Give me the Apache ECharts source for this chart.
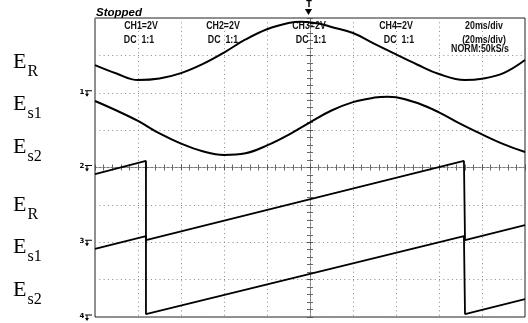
<!DOCTYPE html>
<html>
<head>
<meta charset="utf-8">
<script src="https://cdn.jsdelivr.net/npm/echarts@6/dist/echarts.min.js"></script>
<style>
html,body{margin:0;padding:0;background:#fff;}
#c{width:528px;height:323px;}
</style>
</head>
<body>
<div id="c"></div>
<script>
// time relative to trigger (ms), 20 ms/div ; volts on screen, 2 V/div, centre = 0
var tEr   = [-100,-90,-80,-70,-60,-50,-40,-30,-20,-10,-4,5,10,20,30,40,50,60,72,80,90,100];
var erSine = [5.48,5.03,4.68,4.76,5.05,5.53,6.15,6.85,7.40,7.73,7.80,7.68,7.52,7.20,6.62,6.05,5.50,5.00,4.68,4.75,5.05,5.75];
var tEs1  = [-100,-90,-80,-70,-60,-50,-40,-30,-20,-10,0,10,20,30,36,40,50,60,70,80,90,100];
var es1Sine = [3.56,3.05,2.49,1.82,1.28,0.87,0.67,0.76,1.18,1.75,2.42,3.05,3.50,3.74,3.79,3.76,3.45,2.95,2.33,1.77,1.25,0.83];
// sawtooth traces (break points)
var tSaw   = [-100,-76.3,-76.3,71.6,72.1,100];
var erSaw  = [-0.35,0.35,-3.88,0.35,-3.88,-3.08];
var es1Saw = [-4.36,-3.67,-7.84,-3.67,-7.84,-7.04];
// channel ground levels (V)
var grounds = [4,0,-4,-8];
var groundNames = ['1','2','3','4'];
var labelMain = ['E','E','E','E','E','E'];
var labelSub = ['R','s1','s2','R','s1','s2'];
var headerTop = ['CH1=2V','CH2=2V','CH3=2V','CH4=2V','20ms/div'];
var headerMid = ['DC  1:1','DC  1:1','DC  1:1','DC  1:1','(20ms/div)'];
var headerBot = ['','','','','NORM:50kS/s'];

function zip(a,b){return a.map(function(v,i){return [v,b[i]];});}

var chart = echarts.init(document.getElementById('c'), null, {renderer:'canvas'});
var gridLine = {show:true, lineStyle:{color:'#8a8a8a', width:1, type:[1,3.3]}};
var centerLine = {show:true, onZero:true, onZeroAxisIndex:0, lineStyle:{color:'#777', width:1, type:[2,2]}};
var tickStyle = {show:true, length:3, lineStyle:{color:'#555', width:1}};
var minor = {show:true, splitNumber:5, length:3, lineStyle:{color:'#666', width:1}};

var option = {
  animation:false,
  backgroundColor:'#fff',
  grid:{left:95, top:18, width:430, height:299, show:true, borderColor:'#222', borderWidth:1, backgroundColor:'#fff'},
  xAxis:[
    {type:'value', min:-100, max:100, interval:20, position:'bottom', axisLabel:{show:false}, splitLine:gridLine, axisLine:centerLine, axisTick:tickStyle, minorTick:minor},
    {type:'value', min:-100, max:100, interval:20, position:'top', axisLabel:{show:false}, splitLine:{show:false}, axisLine:centerLine, axisTick:tickStyle, minorTick:minor}
  ],
  yAxis:[
    {type:'value', min:-8, max:8, interval:2, position:'left', axisLabel:{show:false}, splitLine:gridLine, axisLine:centerLine, axisTick:tickStyle, minorTick:minor},
    {type:'value', min:-8, max:8, interval:2, position:'right', axisLabel:{show:false}, splitLine:{show:false}, axisLine:centerLine, axisTick:tickStyle, minorTick:minor}
  ],
  series:[
    {type:'line', data:zip(tEr, erSine), smooth:0.4, showSymbol:false, lineStyle:{color:'#000', width:2}, z:5},
    {type:'line', data:zip(tEs1, es1Sine), smooth:0.4, showSymbol:false, lineStyle:{color:'#000', width:2}, z:5},
    {type:'line', data:zip(tSaw, erSaw), showSymbol:false, lineStyle:{color:'#000', width:1.8}, z:5},
    {type:'line', data:zip(tSaw, es1Saw), showSymbol:false, lineStyle:{color:'#000', width:1.8}, z:5}
  ]
};
chart.setOption(option);

var g = [];
// left labels
var eY = [62.5,104.5,147.5,205.5,247.5,290.5];
for (var i=0;i<labelMain.length;i++){
  g.push({type:'text', x:13, y:eY[i], style:{text:labelMain[i], font:'22px "Liberation Serif"', fill:'#000', align:'left', verticalAlign:'middle'}});
  g.push({type:'text', x:27.5, y:eY[i]+8.8, style:{text:labelSub[i], font:'16px "Liberation Serif"', fill:'#000', align:'left', verticalAlign:'middle'}});
}
// Stopped
g.push({type:'text', x:96, y:12.5, style:{text:'Stopped', font:'italic bold 11.5px "Liberation Sans"', fill:'#000', align:'left', verticalAlign:'middle'}});
// header
var hx = [141,223,309,396,484];
var hx2 = [139,223,311,399,484];
function hText(txt, x, y){
  return {type:'text', x:x, y:y, scaleX:0.84, style:{text:txt, font:'bold 10.5px "Liberation Sans"', fill:'#111', align:'center', verticalAlign:'middle'}, z:1};
}
for (var j=0;j<headerTop.length;j++){
  g.push(hText(headerTop[j], hx[j], 26.5));
  g.push(hText(headerMid[j], hx2[j], 40));
  if (headerBot[j]) g.push(hText(headerBot[j], 480, 49.5));
}
// ground markers
for (var k=0;k<grounds.length;k++){
  var p = chart.convertToPixel({xAxisIndex:0, yAxisIndex:0}, [-100, grounds[k]]);
  var y = p[1];
  g.push({type:'text', x:p[0]-13, y:y-1, style:{text:groundNames[k], font:'bold 7px "DejaVu Sans"', fill:'#000', align:'center', verticalAlign:'middle'}});
  g.push({type:'polyline', shape:{points:[[p[0]-10,y-2],[p[0]-3,y-2]]}, style:{stroke:'#000', lineWidth:1}});
  g.push({type:'polyline', shape:{points:[[p[0]-8,y-2],[p[0]-8,y+3]]}, style:{stroke:'#000', lineWidth:1}});
  g.push({type:'polygon', shape:{points:[[p[0]-10,y+1],[p[0]-6,y+1],[p[0]-8,y+4]]}, style:{fill:'#000'}});
}
// trigger marker at top
var tp = chart.convertToPixel({xAxisIndex:0, yAxisIndex:0}, [0, 8]);
g.push({type:'text', x:tp[0]-1, y:tp[1]-13, style:{text:'T', font:'bold 8px "DejaVu Sans"', fill:'#000', align:'center', verticalAlign:'middle'}});
g.push({type:'polygon', shape:{points:[[tp[0]-5,tp[1]-9],[tp[0]+2,tp[1]-9],[tp[0]-1.5,tp[1]-3]]}, style:{fill:'#000'}});
chart.setOption({graphic:g});
</script>
</body>
</html>
